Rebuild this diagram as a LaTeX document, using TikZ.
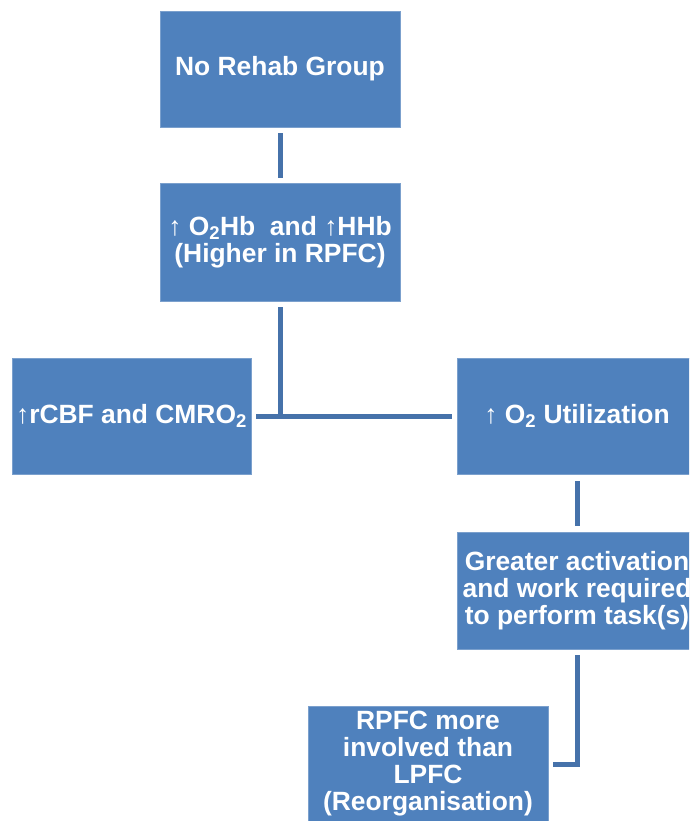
\documentclass[tikz,border=0pt]{standalone}
\usepackage{fontspec}
\setmainfont{Liberation Sans}
\definecolor{boxfill}{HTML}{4F81BD}
\definecolor{linecol}{HTML}{4672AA}
\newcommand{\uarr}{{\mdseries ↑}}
\begin{document}
\begin{tikzpicture}[x=1pt,y=-1pt,
  box/.style={fill=boxfill, draw=boxfill!75!white, line width=0.6pt,
    minimum width=240pt, minimum height=116pt, inner sep=0pt, text=white,
    font=\bfseries\fontsize{26.4}{27}\selectfont, align=center},
  conn/.style={draw=linecol, line width=5pt}]
\useasboundingbox (0,0) rectangle (689,821);
\clip (0,0) rectangle (689,821);
\node[box] (b1) at (280,69) {No Rehab Group};
\node[box, minimum height=118pt] (b2) at (280,242) {\uarr\ O\textsubscript{2}Hb\ \ and \uarr HHb\\(Higher in RPFC)};
\node[box, minimum width=239pt] (b3) at (131.5,416) {\uarr rCBF and CMRO\textsubscript{2}};
\node[box] (b4) at (577,416) {\uarr\ O\textsubscript{2} Utilization};
\node[box, minimum height=117pt] (b5) at (577,590.5) {Greater activation\\and work required\\to perform task(s)};
\node[box] (b6) at (428,764) {RPFC more\\involved than\\LPFC\\(Reorganisation)};
\coordinate (j) at (280,416);
\draw[conn, shorten <=6pt, shorten >=5pt] (b1.south) -- (b2.north);
\draw[conn, shorten <=6pt] (b2.south) -- ([yshift=-2.5pt]j);
\draw[conn, shorten <=5pt, shorten >=5pt] (b3.east) -- (b4.west);
\draw[conn, shorten <=7pt, shorten >=6pt] (b4.south) -- (b5.north);
\draw[conn, shorten <=6pt, shorten >=5pt] (b5.south) |- (b6.east);
\end{tikzpicture}
\end{document}
